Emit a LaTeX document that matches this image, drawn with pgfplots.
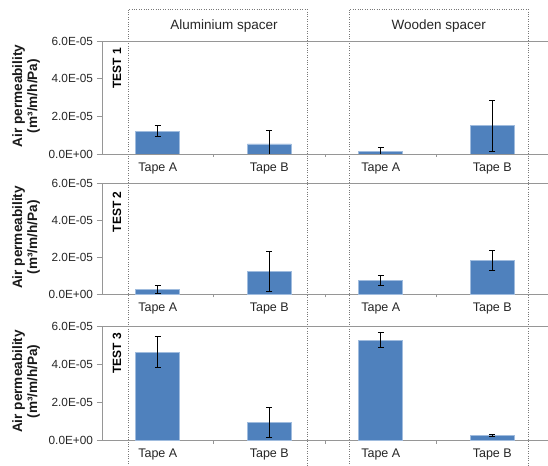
\documentclass[border=0pt]{standalone}
\usepackage{fontspec}
\setmainfont{Liberation Sans}
\usepackage{pgfplots}
\pgfplotsset{compat=1.18}
\definecolor{barblue}{RGB}{79,129,189}
\definecolor{baredge}{RGB}{160,188,222}
\definecolor{axgray}{RGB}{150,150,150}
\definecolor{boxgray}{RGB}{120,120,120}

\pgfplotstableread{
x y e
0 1.22e-5 0.27e-5
1 0.54e-5 0.71e-5
2 0.12e-5 0.21e-5
3 1.50e-5 1.35e-5
}\testone
\pgfplotstableread{
x y e
0 0.28e-5 0.22e-5
1 1.22e-5 1.09e-5
2 0.76e-5 0.28e-5
3 1.82e-5 0.55e-5
}\testtwo
\pgfplotstableread{
x y e
0 4.63e-5 0.82e-5
1 0.95e-5 0.77e-5
2 5.25e-5 0.39e-5
3 0.26e-5 0.05e-5
}\testthree

\tikzset{
  testlab/.style={rotate=90, anchor=east, font=\fontsize{12bp}{14bp}\selectfont\bfseries, inner sep=0pt},
}
\pgfplotsset{
  panel/.style={
    scale only axis,
    width=446bp,
    xmin=-0.5, xmax=3.5,
    ymin=0, ymax=6e-5,
    axis lines*=left,
    axis line style={axgray, line width=0.8bp},
    ytick={0,2e-5,4e-5,6e-5},
    yticklabels={0.0E+00,2.0E-05,4.0E-05,6.0E-05},
    yticklabel style={font=\fontsize{11.8bp}{13bp}\selectfont, text=black!85, xshift=-0.5bp},
    ytick style={axgray, line width=0.8bp},
    tick align=outside,
    major tick length=5bp,
    xtick={0,1,2,3},
    xticklabels={Tape A,Tape B,Tape A,Tape B},
    xticklabel style={font=\fontsize{12.5bp}{14bp}\selectfont, text=black!85, yshift=0bp},
    xtick style={draw=none},
    extra x ticks={0.5,1.5,2.5},
    extra x tick labels={},
    extra x tick style={xtick style={draw=axgray, line width=0.8bp}, major tick length=3bp},
    scaled y ticks=false,
    ybar,
    bar width=44bp,
    extra description/.code={
      \draw[axgray, line width=0.8bp] (axis description cs:0,1) -- (axis description cs:1,1);
    },
  },
  bars/.style={
    fill=barblue, draw=baredge, line width=0.6bp,
    error bars/.cd, y dir=both, y explicit,
    error bar style={black, line width=0.9bp},
    error mark options={black, rotate=90, mark size=3bp, line width=0.9bp},
  },
}

\begin{document}
\begin{tikzpicture}
\useasboundingbox (0,0) rectangle (548bp,466bp);

% dotted group boxes
\draw[boxgray, dash pattern=on 0.8bp off 1.6bp, line width=0.6bp] (128bp,-10bp) -- (128bp,456.7bp) -- (307bp,456.7bp) -- (307bp,-10bp);
\draw[boxgray, dash pattern=on 0.8bp off 1.6bp, line width=0.6bp] (349bp,-10bp) -- (349bp,456.7bp) -- (528bp,456.7bp) -- (528bp,-10bp);

\node[font=\fontsize{13.5bp}{15bp}\selectfont, text=black!85] at (224bp,440bp) {Aluminium spacer};
\node[font=\fontsize{13.5bp}{15bp}\selectfont, text=black!85] at (438.7bp,440bp) {Wooden spacer};

% TEST 1
\begin{axis}[panel, height=113bp, at={(102bp,312bp)}, anchor=south west]
\addplot[bars] table[x=x, y=y, y error=e] {\testone};
\node[testlab] at (axis description cs:0.0336,0.94) {TEST 1};
\end{axis}

% TEST 2
\begin{axis}[panel, height=110.8bp, at={(102bp,171.7bp)}, anchor=south west]
\addplot[bars] table[x=x, y=y, y error=e] {\testtwo};
\node[testlab] at (axis description cs:0.0336,0.93) {TEST 2};
\end{axis}

% TEST 3
\begin{axis}[panel, height=114.7bp, at={(102bp,25.3bp)}, anchor=south west]
\addplot[bars] table[x=x, y=y, y error=e] {\testthree};
\node[testlab] at (axis description cs:0.0336,0.94) {TEST 3};
\end{axis}

% y labels
\foreach \yc in {370,228.5,84.5}{
  \node[rotate=90, align=center, font=\fontsize{13.6bp}{15bp}\selectfont\bfseries, text=black!90] at (26bp,\yc bp) {Air permeability\\(m³/m/h/Pa)};
}
\end{tikzpicture}
\end{document}
